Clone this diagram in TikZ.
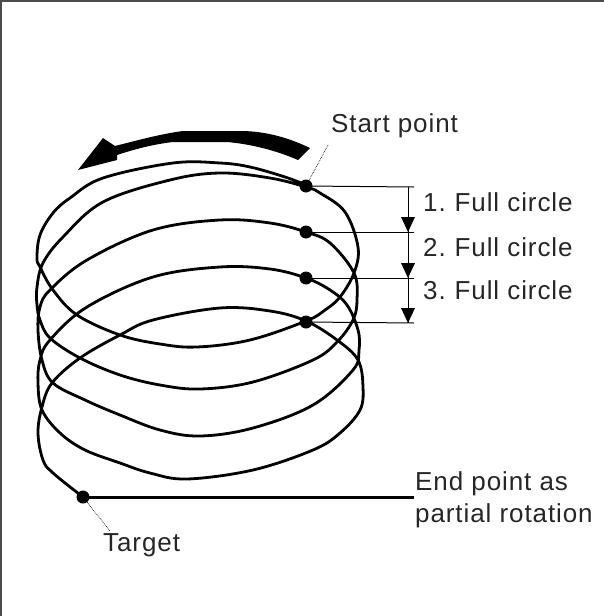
\documentclass[tikz,border=0pt]{standalone}
\usepackage{fontspec}
\setmainfont{Liberation Sans}
\tikzset{
  dotm/.style={circle,fill=black,inner sep=0pt,minimum size=13pt},
  dimline/.style={line width=1pt,black},
  leader/.style={line width=0.7pt,black,densely dotted},
  lbl/.style={inner sep=0pt,anchor=base west,text=black!85,font=\fontsize{26}{29}\selectfont\addfontfeature{LetterSpace=3.5}},
  fallhead/.style={fill=black,draw=none}
}
\begin{document}
\begin{tikzpicture}[x=1pt,y=-1pt]
\useasboundingbox (0,0) rectangle (604,616);
\draw[line width=1.5pt,black!70] (1,616) -- (1,1) -- (604,1);
% spiral
\draw[line width=2.8pt,smooth,tension=0.6] plot coordinates {
(306,185)(285,177)(250,167)(220,163)(173,163)(103,178)(70,198)(53,213)(40,235)(37,258)(40,267)(53,290)(77,315)(120,335)(160,344)(197,347)(250,340)(306,321)(325,310)(340,297)(354,273)(358,247)(345,212)(320,193)(306,187)
(270,178)(220,173)(170,180)(103,202)(63,237)(43,263)(37,287)(37,305)(40,320)(50,338)(80,358)(120,375)(160,385)(200,389)(253,382)(313,360)(337,342)(353,320)(357,300)(354,273)(330,243)(306,232)
(270,223)(220,220)(153,230)(87,260)(50,290)(40,307)(38,330)(42,360)(53,383)(85,400)(120,415)(160,430)(200,436)(253,428)(313,405)(353,370)(359,350)(358,330)(347,305)(330,290)(306,278)
(270,269)(220,267)(153,277)(87,307)(50,340)(40,360)(38,383)(42,410)(60,433)(85,450)(120,463)(150,473)(187,479)(253,470)(313,450)(340,433)(360,410)(363,387)(358,360)(337,340)(306,321)
(270,311)(220,308)(153,320)(120,335)(80,358)(52,383)(42,407)(38,433)(43,460)(53,473)(83,497)};
% rotation arrow
\fill (310,148) .. controls (285,136) and (262,131) .. (240,131) -- (183,131) .. controls (160,134) and (135,141) .. (115,146)
 -- (103,138) -- (78,170) -- (117,160) -- (117,155) .. controls (135,149) and (155,144) .. (173,142) -- (227,142) .. controls (250,144) and (275,150) .. (298,160) -- cycle;
% dots
\node[dotm] (d1) at (306,186) {};
\node[dotm] (d2) at (306,232) {};
\node[dotm] (d3) at (306,278) {};
\node[dotm] (d4) at (306,322) {};
\node[dotm] (t) at (83,497) {};
% dimension ticks
\coordinate (e1) at (414,187);
\coordinate (e2) at (414,232);
\coordinate (e3) at (414,278);
\coordinate (e4) at (414,323);
\coordinate (v1) at (408,187);
\coordinate (v2) at (408,232);
\coordinate (v3) at (408,278);
\coordinate (v4) at (408,323);
\draw[dimline] (d1.center) -- (e1);
\draw[dimline] (d2.center) -- (e2);
\draw[dimline] (d3.center) -- (e3);
\draw[dimline] (d4.center) -- (e4);
\draw[dimline] (v1) -- (v2);
\draw[dimline] (v2) -- (v3);
\draw[dimline] (v3) -- (v4);
\foreach \c in {v2,v3,v4} \fill[fallhead] (\c) ++(0,0) -- ++(-7,-15) -- ++(14,0) -- cycle;
% end line
\coordinate (e5) at (414,497);
\draw[line width=3pt] (t.center) -- (e5);
% leaders
\coordinate (ls) at (328,145);
\coordinate (lt) at (110,531);
\draw[leader] (d1) -- (ls);
\draw[leader] (t) -- (lt);
% labels
\node[lbl] (n0) at (331,132) {Start point};
\node[lbl] (n1) at (423,211) {1.\kern-2pt{} Full circle};
\node[lbl] (n2) at (423,256) {2.\kern-2pt{} Full circle};
\node[lbl] (n3) at (423,299) {3.\kern-2pt{} Full circle};
\node[lbl] (n4) at (415,490) {End point as};
\node[lbl] (n5) at (415,522) {partial rotation};
\node[lbl] (n6) at (103,551) {Target};
\end{tikzpicture}
\end{document}
